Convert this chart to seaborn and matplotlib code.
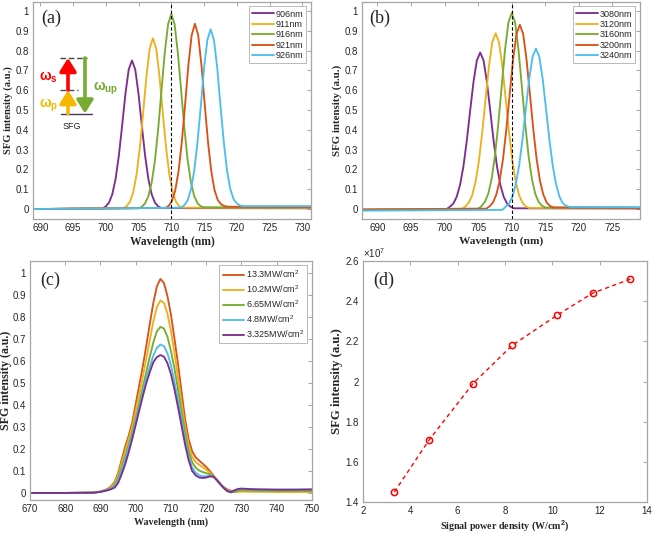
import matplotlib
matplotlib.use("Agg")
import matplotlib.pyplot as plt
import seaborn as sns
from matplotlib.ticker import FuncFormatter, MultipleLocator

# ---------------- data ----------------
# panel (a): SFG spectra vs signal wavelength
a_labels = ["906nm", "911nm", "916nm", "921nm", "926nm"]
a906_x = [689, 699.5, 700, 700.5, 701, 701.5, 702, 702.5, 703, 703.5, 704, 704.5, 705, 705.5, 706, 706.5, 707, 707.5, 708, 708.5, 732]
a906_y = [0.0, 0.004, 0.013, 0.033, 0.075, 0.152, 0.27, 0.422, 0.581, 0.704, 0.75, 0.704, 0.581, 0.422, 0.27, 0.152, 0.075, 0.033, 0.013, 0.005, 0.004]
a911_x = [689, 702.7, 703.2, 703.7, 704.2, 704.7, 705.2, 705.7, 706.2, 706.7, 707.2, 707.7, 708.2, 708.7, 709.2, 709.7, 710.2, 710.7, 711.2, 711.7, 732]
a911_y = [0.0, 0.005, 0.015, 0.038, 0.086, 0.175, 0.31, 0.485, 0.668, 0.809, 0.862, 0.809, 0.668, 0.485, 0.31, 0.175, 0.086, 0.038, 0.015, 0.007, 0.006]
a916_x = [689, 705, 705.5, 706, 706.5, 707, 707.5, 708, 708.5, 709, 709.5, 710, 710.5, 711, 711.5, 712, 712.5, 713, 713.5, 714, 714.5, 715, 732]
a916_y = [0.0, 0.004, 0.011, 0.029, 0.065, 0.133, 0.245, 0.405, 0.598, 0.788, 0.932, 0.985, 0.932, 0.788, 0.598, 0.405, 0.245, 0.133, 0.065, 0.029, 0.014, 0.009, 0.008]
a921_x = [689, 709.1, 709.6, 710.1, 710.6, 711.1, 711.6, 712.1, 712.6, 713.1, 713.6, 714.1, 714.6, 715.1, 715.6, 716.1, 716.6, 717.1, 717.6, 718.1, 718.6, 732]
a921_y = [0.0, 0.006, 0.016, 0.041, 0.094, 0.19, 0.337, 0.526, 0.725, 0.877, 0.935, 0.877, 0.725, 0.526, 0.337, 0.19, 0.094, 0.045, 0.024, 0.015, 0.012, 0.01]
a926_x = [689, 711.5, 712, 712.5, 713, 713.5, 714, 714.5, 715, 715.5, 716, 716.5, 717, 717.5, 718, 718.5, 719, 719.5, 720, 720.5, 721, 732]
a926_y = [0.0, 0.007, 0.02, 0.045, 0.1, 0.194, 0.34, 0.52, 0.714, 0.854, 0.907, 0.854, 0.714, 0.52, 0.34, 0.194, 0.1, 0.05, 0.028, 0.018, 0.015, 0.015]

# panel (b): SFG spectra vs pump wavelength
b_labels = ["3080nm", "3120nm", "3160nm", "3200nm", "3240nm"]
b3080_x = [687.7, 700.3, 700.8, 701.3, 701.8, 702.3, 702.8, 703.3, 703.8, 704.3, 704.8, 705.3, 705.8, 706.3, 706.8, 707.3, 707.8, 708.3, 708.8, 709.3, 709.8, 710.3, 729.1]
b3080_y = [-0.003, 0.0, 0.012, 0.028, 0.062, 0.122, 0.215, 0.344, 0.495, 0.641, 0.75, 0.79, 0.75, 0.641, 0.495, 0.344, 0.215, 0.122, 0.062, 0.028, 0.012, 0.004, 0.003]
b3120_x = [687.7, 702.6, 703.1, 703.6, 704.1, 704.6, 705.1, 705.6, 706.1, 706.6, 707.1, 707.6, 708.1, 708.6, 709.1, 709.6, 710.1, 710.6, 711.1, 711.6, 712.1, 712.6, 729.1]
b3120_y = [-0.003, 0.002, 0.013, 0.032, 0.069, 0.137, 0.241, 0.386, 0.555, 0.72, 0.842, 0.887, 0.842, 0.72, 0.555, 0.386, 0.241, 0.137, 0.069, 0.032, 0.013, 0.006, 0.005]
b3160_x = [687.7, 705, 705.5, 706, 706.5, 707, 707.5, 708, 708.5, 709, 709.5, 710, 710.5, 711, 711.5, 712, 712.5, 713, 713.5, 714, 714.5, 715, 729.1]
b3160_y = [-0.003, 0.002, 0.015, 0.036, 0.077, 0.152, 0.269, 0.431, 0.62, 0.804, 0.94, 0.99, 0.94, 0.804, 0.62, 0.431, 0.269, 0.152, 0.077, 0.036, 0.017, 0.008, 0.005]
b3200_x = [687.7, 706.2, 706.7, 707.2, 707.7, 708.2, 708.7, 709.2, 709.7, 710.2, 710.7, 711.2, 711.7, 712.2, 712.7, 713.2, 713.7, 714.2, 714.7, 715.2, 715.7, 716.2, 729.1]
b3200_y = [-0.003, 0.002, 0.014, 0.033, 0.073, 0.143, 0.253, 0.405, 0.582, 0.755, 0.883, 0.93, 0.883, 0.755, 0.582, 0.405, 0.253, 0.143, 0.073, 0.033, 0.016, 0.008, 0.006]
b3240_x = [687.7, 708.6, 709.1, 709.6, 710.1, 710.6, 711.1, 711.6, 712.1, 712.6, 713.1, 713.6, 714.1, 714.6, 715.1, 715.6, 716.1, 716.6, 717.1, 717.6, 718.1, 718.6, 729.1]
b3240_y = [-0.008, -0.004, 0.012, 0.029, 0.063, 0.125, 0.22, 0.352, 0.507, 0.658, 0.769, 0.81, 0.769, 0.658, 0.507, 0.352, 0.22, 0.125, 0.063, 0.029, 0.016, 0.011, 0.01]

# panel (c): SFG spectra vs signal power density
c_labels = ["13.3MW/cm$^2$", "10.2MW/cm$^2$", "6.65MW/cm$^2$", "4.8MW/cm$^2$", "3.325MW/cm$^2$"]
c_x = [670, 680, 688, 690, 692, 693, 694, 695, 696, 697, 698, 699, 700, 701, 702, 703, 704, 705, 706, 707,
       708, 709, 710, 711, 712, 713, 714, 715, 716, 717, 718, 719, 720, 721, 722, 723, 724, 725, 726, 727,
       728, 729, 730, 731, 733, 736, 740, 745, 750]
c_133 = [0, 0, 0.002, 0.006, 0.018, 0.03, 0.05, 0.09, 0.15, 0.21, 0.26, 0.32, 0.405, 0.49, 0.575, 0.67, 0.77, 0.865, 0.94, 0.973,
         0.955, 0.895, 0.81, 0.70, 0.585, 0.46, 0.335, 0.245, 0.19, 0.162, 0.147, 0.133, 0.118, 0.1, 0.08, 0.058, 0.04, 0.026, 0.016, 0.01,
         0.008, 0.01, 0.012, 0.012, 0.011, 0.01, 0.01, 0.01, 0.01]
c_102 = [0, 0, 0.002, 0.006, 0.016, 0.026, 0.045, 0.08, 0.135, 0.19, 0.245, 0.30, 0.375, 0.45, 0.53, 0.61, 0.695, 0.78, 0.845, 0.875,
         0.865, 0.815, 0.735, 0.635, 0.525, 0.41, 0.30, 0.215, 0.165, 0.14, 0.128, 0.117, 0.105, 0.092, 0.076, 0.056, 0.038, 0.022, 0.012, 0.006,
         0.004, 0.005, 0.006, 0.006, 0.005, 0.005, 0.004, 0.004, 0.004]
c_665 = [0, 0, 0.001, 0.005, 0.014, 0.022, 0.036, 0.066, 0.115, 0.165, 0.22, 0.275, 0.34, 0.41, 0.48, 0.55, 0.62, 0.685, 0.735, 0.755,
         0.748, 0.71, 0.645, 0.565, 0.47, 0.37, 0.27, 0.19, 0.14, 0.115, 0.102, 0.095, 0.09, 0.085, 0.077, 0.06, 0.04, 0.022, 0.01, 0.003,
         0.005, 0.01, 0.012, 0.012, 0.011, 0.01, 0.01, 0.01, 0.01]
c_48 = [0, 0, 0.001, 0.005, 0.013, 0.02, 0.03, 0.056, 0.1, 0.15, 0.205, 0.26, 0.325, 0.39, 0.455, 0.52, 0.575, 0.625, 0.66, 0.675,
        0.668, 0.635, 0.58, 0.505, 0.42, 0.33, 0.24, 0.165, 0.115, 0.092, 0.08, 0.076, 0.076, 0.078, 0.075, 0.06, 0.04, 0.023, 0.01, 0.004,
        0.01, 0.016, 0.018, 0.017, 0.016, 0.015, 0.015, 0.015, 0.016]
c_3325 = [0, 0, 0.001, 0.005, 0.012, 0.017, 0.024, 0.045, 0.085, 0.13, 0.185, 0.245, 0.31, 0.375, 0.44, 0.5, 0.55, 0.595, 0.618, 0.627,
          0.62, 0.59, 0.54, 0.47, 0.39, 0.305, 0.22, 0.15, 0.1, 0.08, 0.07, 0.068, 0.07, 0.075, 0.074, 0.06, 0.04, 0.022, 0.008, 0.003,
          0.012, 0.018, 0.02, 0.019, 0.017, 0.016, 0.015, 0.015, 0.016]

# panel (d): integrated SFG intensity vs signal power density
d_power = [3.325, 4.8, 6.65, 8.3, 10.2, 11.7, 13.3]
d_intensity = [1.45e7, 1.71e7, 1.99e7, 2.18e7, 2.33e7, 2.44e7, 2.51e7]

# ---------------- style ----------------
sns.set_style("white")
plt.rcParams["font.family"] = ["Liberation Sans", "DejaVu Sans"]
plt.rcParams["mathtext.fontset"] = "custom"
plt.rcParams["mathtext.rm"] = "Liberation Sans"
plt.rcParams["mathtext.bf"] = "Liberation Sans:bold"
plt.rcParams["mathtext.it"] = "Liberation Sans:italic"

PURPLE, ORANGE, GREEN, RED, BLUE = "#7E2F8E", "#EDB120", "#77AC30", "#D95319", "#4DBEEE"
SPINE = "#a6a6a6"
TICKC = "#262626"
SERIF = ["Liberation Serif", "DejaVu Serif"]

fig = plt.figure(figsize=(6.53, 5.34), dpi=100)
ax_a = fig.add_axes([0.0505, 0.5899, 0.4257, 0.4064])
ax_b = fig.add_axes([0.5544, 0.5899, 0.4257, 0.4064])
ax_c = fig.add_axes([0.0459, 0.0637, 0.4319, 0.4476])
ax_d = fig.add_axes([0.5559, 0.0599, 0.4349, 0.4513])

fmt = FuncFormatter(lambda v, p: f"{v:g}")


def style(ax, xlabel, ylabel, xs=8.3, ys=7.6, ypad=2):
    for s in ax.spines.values():
        s.set_color(SPINE)
        s.set_linewidth(0.9)
    ax.tick_params(direction="in", length=3, width=0.7, color=SPINE, labelsize=7,
                   labelcolor=TICKC, top=True, right=True, pad=3)
    ax.xaxis.set_major_formatter(fmt)
    ax.yaxis.set_major_formatter(fmt)
    ax.set_xlabel(xlabel, family=SERIF, fontweight="bold", fontsize=xs, labelpad=2)
    ax.set_ylabel(ylabel, family=SERIF, fontweight="bold", fontsize=ys, labelpad=ypad)


def legend(ax, pad=0.5, spacing=0.15):
    leg = ax.legend(loc="upper right", fontsize=6.5, frameon=True, fancybox=False,
                    handlelength=2.4, handletextpad=0.2, labelspacing=spacing,
                    borderpad=0.35, borderaxespad=pad)
    leg.get_frame().set_edgecolor("#9a9a9a")
    leg.get_frame().set_linewidth(0.6)
    return leg


LW = 1.35

# ---- (a)
for xs, ys, col, lab in [(a906_x, a906_y, PURPLE, a_labels[0]), (a911_x, a911_y, ORANGE, a_labels[1]),
                         (a916_x, a916_y, GREEN, a_labels[2]), (a921_x, a921_y, RED, a_labels[3]),
                         (a926_x, a926_y, BLUE, a_labels[4])]:
    sns.lineplot(x=xs, y=ys, ax=ax_a, color=col, lw=LW, label=lab, sort=False, estimator=None)
ax_a.axvline(710, color="black", ls=(0, (3, 2)), lw=0.8)
ax_a.set_xlim(688.9, 731.3)
ax_a.set_ylim(-0.05, 1.045)
ax_a.xaxis.set_major_locator(MultipleLocator(5))
ax_a.yaxis.set_major_locator(MultipleLocator(0.1))
style(ax_a, "Wavelength (nm)", "SFG intensity (a.u.)", xs=8.3, ys=7.6)
legend(ax_a)
ax_a.text(0.028, 0.965, "(a)", transform=ax_a.transAxes, family=SERIF, fontsize=13, va="top", ha="left")

# energy-level inset in (a)
T = ax_a.transAxes
ax_a.plot([0.097, 0.194], [0.742, 0.742], transform=T, color="#444444", lw=1.0, ls=(0, (4, 2)))
ax_a.plot([0.097, 0.162], [0.594, 0.594], transform=T, color="#5b3b73", lw=1.0, ls=(0, (4, 2)))
ax_a.plot([0.101, 0.212], [0.484, 0.484], transform=T, color="#4b3360", lw=1.0)
arrow_kw = dict(arrowstyle="-|>,head_width=0.5,head_length=0.8", lw=2.6, shrinkA=0, shrinkB=0)
ax_a.annotate("", xy=(0.126, 0.742), xytext=(0.126, 0.594), xycoords=T, textcoords=T,
              arrowprops=dict(color="#ff0000", **arrow_kw))
ax_a.annotate("", xy=(0.126, 0.594), xytext=(0.126, 0.486), xycoords=T, textcoords=T,
              arrowprops=dict(color="#f5b800", **arrow_kw))
ax_a.annotate("", xy=(0.187, 0.486), xytext=(0.187, 0.742), xycoords=T, textcoords=T,
              arrowprops=dict(color=GREEN, **arrow_kw))
ax_a.text(0.055, 0.655, r"$\mathbf{\omega_s}$", transform=T, color="#ff0000", fontsize=10, ha="center", va="center")
ax_a.text(0.055, 0.525, r"$\mathbf{\omega_p}$", transform=T, color="#f5b800", fontsize=10, ha="center", va="center")
ax_a.text(0.262, 0.604, r"$\mathbf{\omega_{up}}$", transform=T, color=GREEN, fontsize=10, ha="center", va="center")
ax_a.text(0.140, 0.424, "SFG", transform=T, color="#222222", fontsize=6.5, ha="center", va="center")

# ---- (b)
for xs, ys, col, lab in [(b3080_x, b3080_y, PURPLE, b_labels[0]), (b3120_x, b3120_y, ORANGE, b_labels[1]),
                         (b3160_x, b3160_y, GREEN, b_labels[2]), (b3200_x, b3200_y, RED, b_labels[3]),
                         (b3240_x, b3240_y, BLUE, b_labels[4])]:
    sns.lineplot(x=xs, y=ys, ax=ax_b, color=col, lw=LW, label=lab, sort=False, estimator=None)
ax_b.axvline(710, color="black", ls=(0, (3, 2)), lw=0.8)
ax_b.set_xlim(687.7, 729.1)
ax_b.set_ylim(-0.05, 1.045)
ax_b.xaxis.set_major_locator(MultipleLocator(5))
ax_b.yaxis.set_major_locator(MultipleLocator(0.1))
style(ax_b, "Wavelength (nm)", "SFG intensity (a.u.)", xs=8.2, ys=7.8)
legend(ax_b)
ax_b.text(0.025, 0.965, "(b)", transform=ax_b.transAxes, family=SERIF, fontsize=13, va="top", ha="left")

# ---- (c)
for ys, col, lab in [(c_133, RED, c_labels[0]), (c_102, ORANGE, c_labels[1]), (c_665, GREEN, c_labels[2]),
                     (c_48, BLUE, c_labels[3]), (c_3325, PURPLE, c_labels[4])]:
    sns.lineplot(x=c_x, y=ys, ax=ax_c, color=col, lw=LW, label=lab, sort=False, estimator=None)
ax_c.set_xlim(670, 750)
ax_c.set_ylim(-0.032, 1.055)
ax_c.xaxis.set_major_locator(MultipleLocator(10))
ax_c.yaxis.set_major_locator(MultipleLocator(0.1))
style(ax_c, "Wavelength (nm)", "SFG intensity (a.u.)", xs=7.2, ys=8.6, ypad=0.5)
legend(ax_c, pad=0.5, spacing=0.35)
ax_c.text(0.035, 0.955, "(c)", transform=ax_c.transAxes, family=SERIF, fontsize=13, va="top", ha="left")

# ---- (d)
sns.lineplot(x=d_power, y=d_intensity, ax=ax_d, color="#ff0000", lw=1.0, ls=(0, (3, 2.5)),
             marker="o", markersize=4.5, markerfacecolor="none", markeredgecolor="#ff0000",
             markeredgewidth=1.1, sort=False, estimator=None)
ax_d.set_xlim(2, 14)
ax_d.set_ylim(1.4e7, 2.6e7)
ax_d.xaxis.set_major_locator(MultipleLocator(2))
ax_d.yaxis.set_major_locator(MultipleLocator(0.2e7))
style(ax_d, "Signal power density (W/cm$^\\mathbf{2}$)", "SFG intensity (a.u.)", xs=7.2, ys=9.2)
ax_d.yaxis.set_major_formatter(FuncFormatter(lambda v, p: f"{v / 1e7:g}"))
ax_d.text(0.0, 1.005, r"$\times10^7$", transform=ax_d.transAxes, fontsize=7, color=TICKC, ha="left", va="bottom")
ax_d.text(0.035, 0.955, "(d)", transform=ax_d.transAxes, family=SERIF, fontsize=13, va="top", ha="left")

fig.savefig("out.png", dpi=100)
